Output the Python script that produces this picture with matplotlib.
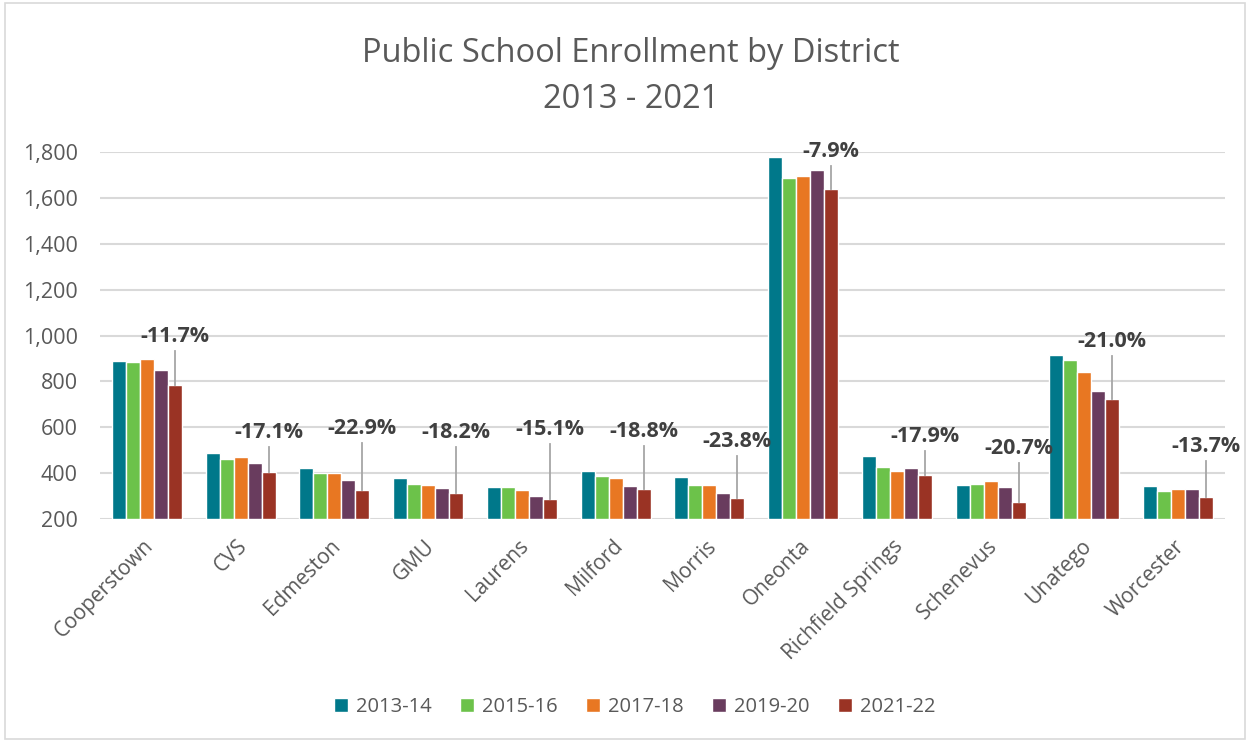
import matplotlib
matplotlib.use("Agg")
import matplotlib.pyplot as plt
import matplotlib.transforms as mtransforms
import numpy as np
from matplotlib.patches import Rectangle
from matplotlib.ticker import FuncFormatter

districts = ["Cooperstown", "CVS", "Edmeston", "GMU", "Laurens", "Milford", "Morris",
             "Oneonta", "Richfield Springs", "Schenevus", "Unatego", "Worcester"]
years = ["2013-14", "2015-16", "2017-18", "2019-20", "2021-22"]
e2013 = [888, 486, 423, 381, 338, 409, 384, 1779, 476, 348, 916, 343]
e2015 = [885, 463, 399, 351, 339, 387, 348, 1686, 425, 354, 893, 321]
e2017 = [896, 469, 399, 349, 326, 377, 347, 1697, 408, 366, 841, 331]
e2019 = [852, 445, 371, 334, 300, 344, 315, 1724, 422, 339, 758, 330]
e2021 = [784, 403, 326, 312, 287, 332, 292, 1638, 391, 276, 723, 296]
pct_labels = ["-11.7%", "-17.1%", "-22.9%", "-18.2%", "-15.1%", "-18.8%", "-23.8%",
              "-7.9%", "-17.9%", "-20.7%", "-21.0%", "-13.7%"]
# top of each leader line (data units)
leader_top = [932, 514, 531, 514, 527, 518, 475, 1738, 496, 444, 910, 453]

colors = ["#00788A", "#6CC24A", "#E87722", "#693C5E", "#9A3324"]
series = [e2013, e2015, e2017, e2019, e2021]

plt.rcParams['font.family'] = ['Open Sans', 'DejaVu Sans']
fig = plt.figure(figsize=(12.5, 7.42), dpi=100)
ax = fig.add_axes([0.08, 0.3005, 0.90, 0.4945])

x = np.arange(len(districts))
bw = 0.149
for i, (vals, c) in enumerate(zip(series, colors)):
    offs = (i - 2) * bw
    ax.bar(x + offs, np.array(vals) - 200, bw, bottom=200, color=c, edgecolor="white",
           linewidth=1.0, label=years[i], zorder=3)

for xi, v, top, lab in zip(x, e2021, leader_top, pct_labels):
    xr = xi + 2 * bw
    ax.plot([xr, xr], [v, top], color="#A6A6A6", lw=1.3, zorder=4)
    ax.text(xr, top + 18, lab, ha="center", va="bottom", fontsize=15.5,
            fontweight="bold", color="#404040", zorder=5)

ax.set_ylim(200, 1800)
ax.set_xlim(-0.5, len(districts) - 0.5)
ax.set_yticks(range(200, 1801, 200))
ax.yaxis.set_major_formatter(FuncFormatter(lambda v, p: f"{int(v):,}"))
ax.grid(axis="y", color="#D9D9D9", lw=1.5, zorder=0)
ax.set_axisbelow(True)
for s in ax.spines.values():
    s.set_visible(False)
ax.tick_params(axis="y", length=0, pad=16, labelsize=15.5, labelcolor="#595959")
ax.tick_params(axis="x", length=0, pad=12, labelsize=15, labelcolor="#595959")
ax.set_xticks(x)
ax.set_xticklabels(districts, rotation=45, ha="right", rotation_mode="anchor")
shift = mtransforms.ScaledTranslation(-4 / 100, 0, fig.dpi_scale_trans)
for lbl in ax.get_xticklabels():
    lbl.set_transform(lbl.get_transform() + shift)

fig.text(0.505, 0.928, "Public School Enrollment by District", ha="center", va="center",
         fontsize=23.5, color="#595959")
fig.text(0.505, 0.866, "2013 - 2021", ha="center", va="center", fontsize=23.5, color="#595959")

leg = fig.legend(loc="center", bbox_to_anchor=(0.508, 0.047), ncol=5, frameon=False,
                 fontsize=14.5, handlelength=0.7, handleheight=0.7, handletextpad=0.4,
                 columnspacing=1.4, labelcolor="#595959")

fig.patches.append(Rectangle((0.004, 0.004), 0.992, 0.992, transform=fig.transFigure,
                             fill=False, edgecolor="#D9D9D9", lw=1.2))

fig.savefig("out.png", dpi=100, facecolor="white")
